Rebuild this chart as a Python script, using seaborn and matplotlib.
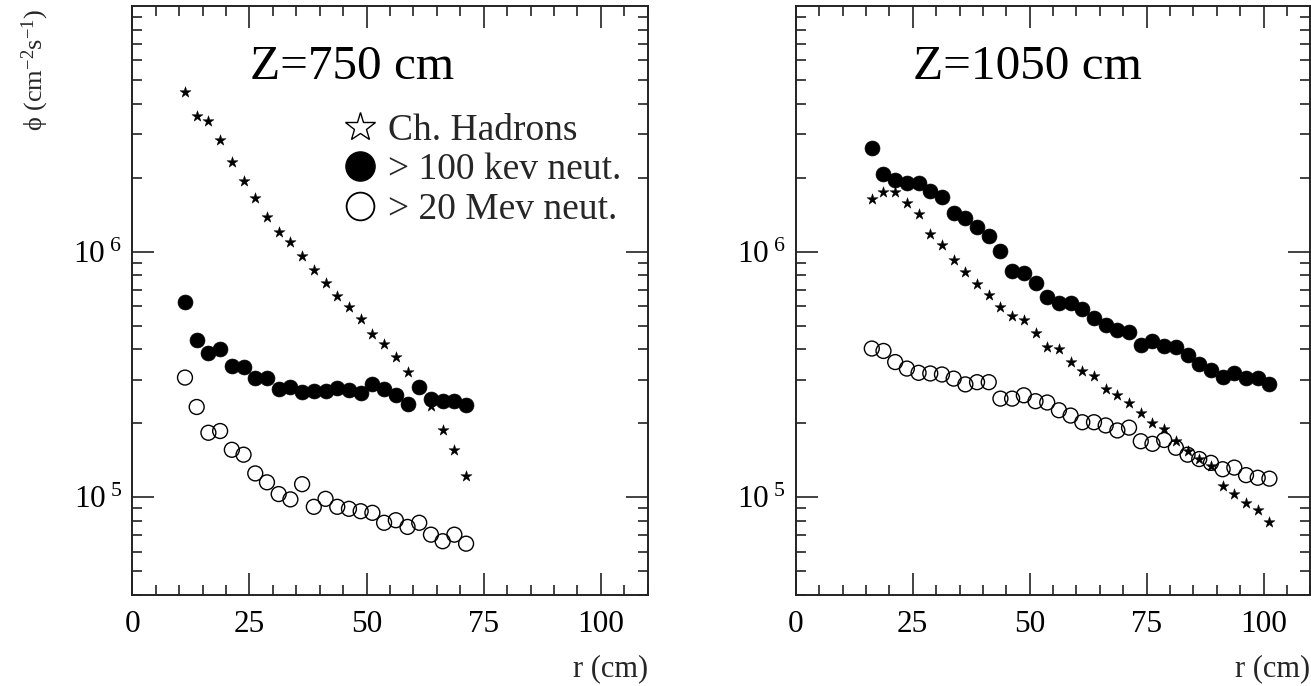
import numpy as np
import matplotlib
matplotlib.use("Agg")
import matplotlib.pyplot as plt
from matplotlib.lines import Line2D
from matplotlib.ticker import LogLocator, FixedLocator, MultipleLocator, FuncFormatter, NullFormatter
import seaborn as sns

# Radial positions (cm)
r_750 = [11.25, 13.75, 16.25, 18.75, 21.25, 23.75, 26.25, 28.75, 31.25, 33.75,
         36.25, 38.75, 41.25, 43.75, 46.25, 48.75, 51.25, 53.75, 56.25, 58.75,
         61.25, 63.75, 66.25, 68.75, 71.25]
r_1050 = [16.25, 18.75, 21.25, 23.75, 26.25, 28.75, 31.25, 33.75, 36.25, 38.75,
          41.25, 43.75, 46.25, 48.75, 51.25, 53.75, 56.25, 58.75, 61.25, 63.75,
          66.25, 68.75, 71.25, 73.75, 76.25, 78.75, 81.25, 83.75, 86.25, 88.75,
          91.25, 93.75, 96.25, 98.75, 101.25]

# Fluxes (cm^-2 s^-1) at Z = 750 cm
hadrons_750 = [4.45e6, 3.55e6, 3.40e6, 2.84e6, 2.31e6, 1.94e6, 1.65e6, 1.38e6, 1.20e6, 1.09e6,
               9.6e5, 8.4e5, 7.43e5, 6.6e5, 5.97e5, 5.30e5, 4.60e5, 4.19e5, 3.73e5, 3.23e5,
               2.78e5, 2.35e5, 1.87e5, 1.56e5, 1.22e5]
neut100k_750 = [6.25e5, 4.35e5, 3.87e5, 4.0e5, 3.42e5, 3.40e5, 3.07e5, 3.05e5, 2.77e5, 2.82e5,
                2.68e5, 2.71e5, 2.71e5, 2.79e5, 2.73e5, 2.65e5, 2.88e5, 2.77e5, 2.60e5, 2.39e5,
                2.82e5, 2.50e5, 2.46e5, 2.46e5, 2.37e5]
neut20M_750 = [3.07e5, 2.33e5, 1.83e5, 1.86e5, 1.56e5, 1.49e5, 1.25e5, 1.15e5, 1.03e5, 9.8e4,
               1.13e5, 9.14e4, 9.85e4, 9.14e4, 8.97e4, 8.77e4, 8.64e4, 7.87e4, 8.06e4, 7.57e4,
               7.87e4, 7.04e4, 6.62e4, 7.04e4, 6.47e4]

# Fluxes (cm^-2 s^-1) at Z = 1050 cm
hadrons_1050 = [1.63e6, 1.75e6, 1.75e6, 1.58e6, 1.42e6, 1.18e6, 1.06e6, 9.22e5, 8.26e5, 7.36e5,
                6.65e5, 5.95e5, 5.47e5, 5.25e5, 4.68e5, 4.09e5, 4.0e5, 3.56e5, 3.26e5, 3.11e5,
                2.77e5, 2.60e5, 2.43e5, 2.21e5, 2.01e5, 1.89e5, 1.69e5, 1.54e5, 1.43e5, 1.34e5,
                1.11e5, 1.03e5, 9.49e4, 8.91e4, 7.94e4]
neut100k_1050 = [2.63e6, 2.07e6, 1.95e6, 1.91e6, 1.91e6, 1.77e6, 1.67e6, 1.43e6, 1.37e6, 1.26e6,
                 1.16e6, 1.01e6, 8.34e5, 8.16e5, 7.48e5, 6.56e5, 6.2e5, 6.18e5, 5.82e5, 5.38e5,
                 5.02e5, 4.78e5, 4.70e5, 4.16e5, 4.32e5, 4.12e5, 4.10e5, 3.81e5, 3.50e5, 3.31e5,
                 3.08e5, 3.21e5, 3.07e5, 3.07e5, 2.88e5]
neut20M_1050 = [4.03e5, 3.94e5, 3.55e5, 3.34e5, 3.21e5, 3.19e5, 3.16e5, 3.04e5, 2.88e5, 2.94e5,
                2.94e5, 2.52e5, 2.52e5, 2.60e5, 2.46e5, 2.43e5, 2.26e5, 2.15e5, 2.02e5, 2.02e5,
                1.96e5, 1.87e5, 1.92e5, 1.69e5, 1.65e5, 1.71e5, 1.59e5, 1.49e5, 1.43e5, 1.38e5,
                1.30e5, 1.32e5, 1.23e5, 1.20e5, 1.19e5]

panel_titles = ["Z=750 cm", "Z=1050 cm"]
legend_labels = ["Ch. Hadrons", "> 100 kev neut.", "> 20 Mev neut."]
x_ticks = [0, 25, 50, 75, 100]
y_major = [1e5, 1e6]

sns.set_style("ticks")
plt.rcParams["font.family"] = ["Liberation Serif", "DejaVu Serif"]
plt.rcParams["mathtext.fontset"] = "custom"
plt.rcParams["mathtext.rm"] = "Liberation Serif"
plt.rcParams["mathtext.it"] = "Liberation Serif:italic"

INK = "#222222"
fig = plt.figure(figsize=(13.11, 6.86), dpi=100)
ax1 = fig.add_axes([0.1009, 0.1327, 0.3931, 0.8586])
ax2 = fig.add_axes([0.6070, 0.1327, 0.3925, 0.8586])

panels = [
    (ax1, r_750, hadrons_750, neut100k_750, neut20M_750),
    (ax2, r_1050, hadrons_1050, neut100k_1050, neut20M_1050),
]

def decade_label(v, _):
    e = int(round(np.log10(v)))
    return r"10$^{\ \mathregular{%d}}$" % e

for i, (ax, r, had, n100, n20) in enumerate(panels):
    sns.scatterplot(x=r, y=n20, ax=ax, marker="o", s=115, color="none",
                    edgecolor="black", linewidth=1.0, zorder=3)
    sns.scatterplot(x=r, y=had, ax=ax, marker="*", s=70, color="black",
                    edgecolor="black", linewidth=0.3, zorder=4)
    sns.scatterplot(x=r, y=n100, ax=ax, marker="o", s=115, color="black",
                    edgecolor="black", linewidth=0.5, zorder=5)

    ax.set_yscale("log")
    ax.set_xlim(0, 110)
    ax.set_ylim(4e4, 1e7)
    ax.xaxis.set_major_locator(FixedLocator(x_ticks))
    ax.xaxis.set_minor_locator(MultipleLocator(5))
    ax.yaxis.set_major_locator(FixedLocator(y_major))
    ax.yaxis.set_minor_locator(LogLocator(base=10, subs=np.arange(2, 10), numticks=20))
    ax.yaxis.set_major_formatter(FuncFormatter(decade_label))
    ax.yaxis.set_minor_formatter(NullFormatter())

    ax.tick_params(which="both", direction="in", top=True, right=True,
                   color=INK, labelsize=22.5, labelcolor="black")
    ax.tick_params(which="major", length=16, width=1.2)
    ax.tick_params(which="minor", length=7.5, width=1.2)
    ax.tick_params(axis="x", which="major", pad=11)
    ax.tick_params(axis="y", which="major", pad=7)
    for sp in ax.spines.values():
        sp.set_color(INK)
        sp.set_linewidth(1.4)

    ax.set_xlabel("r (cm)", fontsize=22, ha="right")
    ax.xaxis.set_label_coords(1.0, -0.1)
    ax.set_ylabel("")

    ax.text(0.228, 0.876, panel_titles[i], transform=ax.transAxes,
            fontsize=35.5, ha="left", va="baseline", color="black")

handles = [
    Line2D([], [], linestyle="none", marker="*", markersize=22, markerfacecolor="white",
           markeredgecolor="black", markeredgewidth=1.0),
    Line2D([], [], linestyle="none", marker="o", markersize=21, markerfacecolor="black",
           markeredgecolor="black"),
    Line2D([], [], linestyle="none", marker="o", markersize=20, markerfacecolor="white",
           markeredgecolor="black", markeredgewidth=1.3),
]
ax1.legend(handles, legend_labels, loc="upper left", bbox_to_anchor=(0.405, 0.818),
           frameon=False, fontsize=27, handlelength=1.0, handletextpad=0.25,
           labelspacing=0.14, borderpad=0, borderaxespad=0)

fig.text(0.027, 1 - 9 / 686, "\u03d5 (cm$^{-2}$s$^{-1}$)", rotation=90,
         ha="center", va="top", fontsize=19)

fig.savefig("out.png", dpi=100)
